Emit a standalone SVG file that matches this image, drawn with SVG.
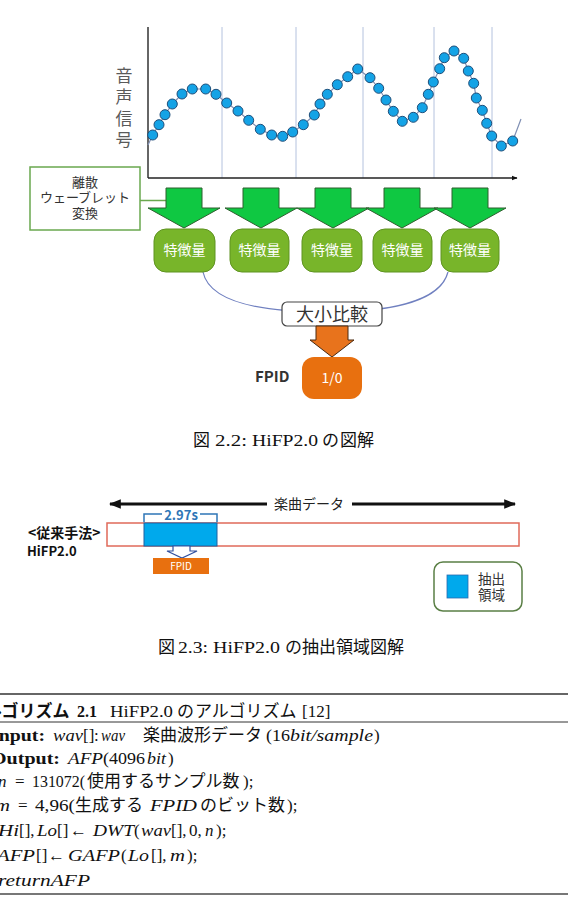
<svg xmlns="http://www.w3.org/2000/svg" width="568" height="915" viewBox="0 0 568 915">
<style>
.sans{font-family:"Noto Sans CJK JP","Noto Sans",sans-serif}
.serif{font-family:"Liberation Serif","Noto Sans CJK JP",serif;font-size:17px;fill:#111}
.it{font-style:italic}
.bf{font-weight:bold}
.grid{stroke:#b4c2de;stroke-width:1}
.dot{fill:#14a3e6;stroke:#1f4e79;stroke-width:1}
.garrow{fill:#0fc842;stroke:#2f5f2f;stroke-width:1}
.feat{fill:#78b52a;stroke:#5f9321;stroke-width:1}
.feattxt{font-family:"Noto Sans CJK JP",sans-serif;font-size:14px;fill:#fff;text-anchor:middle}
.orange{fill:#e8700f}
.rule{stroke:#333;fill:none}
</style>
<defs>
<marker id="ah" viewBox="0 0 10 10" refX="9" refY="5" markerWidth="6" markerHeight="6" orient="auto-start-reverse" markerUnits="userSpaceOnUse">
<path d="M0,1 L10,5 L0,9 z" fill="#111"/>
</marker>
<marker id="ahb" viewBox="0 0 10 10" refX="9" refY="5" markerWidth="12" markerHeight="12" orient="auto-start-reverse" markerUnits="userSpaceOnUse">
<path d="M0,1 L10,5 L0,9 z" fill="#111"/>
</marker>
</defs>

<!-- Figure 2.2 : chart -->
<g id="chart">
<line class="grid" x1="222" y1="27" x2="222" y2="178"/>
<line class="grid" x1="296" y1="27" x2="296" y2="178"/>
<line class="grid" x1="363" y1="27" x2="363" y2="178"/>
<line class="grid" x1="434" y1="27" x2="434" y2="178"/>
<line class="grid" x1="492" y1="27" x2="492" y2="178"/>
<line x1="148" y1="27" x2="148" y2="178" stroke="#333" stroke-width="1.5"/>
<line x1="148" y1="178" x2="517" y2="178" stroke="#222" stroke-width="1.5" marker-end="url(#ah)"/>
<text class="sans" font-size="17" fill="#5a5a5a" text-anchor="middle" x="124" y="82">音</text>
<text class="sans" font-size="17" fill="#5a5a5a" text-anchor="middle" x="124" y="103">声</text>
<text class="sans" font-size="17" fill="#5a5a5a" text-anchor="middle" x="124" y="125">信</text>
<text class="sans" font-size="17" fill="#5a5a5a" text-anchor="middle" x="124" y="146">号</text>
<polyline fill="none" stroke="#8090b4" stroke-width="1.2" points="148,145 152.7,135 159,124.7 165,114.7 172.3,104 182,94 192.3,89 205.7,89 216,94.3 226.7,103 238,111 248.7,120.3 260.3,129.3 271.7,135 282.7,136.3 292.7,132 303.3,124.7 314.3,115 320,104 327.3,94.3 337.3,84.7 347.7,76.7 357.7,69 370,77.7 378.7,88.3 386,100 393.3,111.3 402.3,121.3 413.3,117.3 422.3,107.7 428.3,94.3 433.3,82 439.7,68.7 444.3,57.7 454,51 463.7,58.3 468.3,71 473.7,83.3 476.3,98 482.3,110.3 486.7,123.3 491.7,136 501.3,146 512.7,141 521,119"/>
<g class="dot">
<circle cx="152.7" cy="135" r="5"/><circle cx="159" cy="124.7" r="5"/><circle cx="165" cy="114.7" r="5"/><circle cx="172.3" cy="104" r="5"/><circle cx="182" cy="94" r="5"/><circle cx="192.3" cy="89" r="5"/><circle cx="205.7" cy="89" r="5"/><circle cx="216" cy="94.3" r="5"/><circle cx="226.7" cy="103" r="5"/><circle cx="238" cy="111" r="5"/><circle cx="248.7" cy="120.3" r="5"/><circle cx="260.3" cy="129.3" r="5"/><circle cx="271.7" cy="135" r="5"/><circle cx="282.7" cy="136.3" r="5"/><circle cx="292.7" cy="132" r="5"/><circle cx="303.3" cy="124.7" r="5"/><circle cx="314.3" cy="115" r="5"/><circle cx="320" cy="104" r="5"/><circle cx="327.3" cy="94.3" r="5"/><circle cx="337.3" cy="84.7" r="5"/><circle cx="347.7" cy="76.7" r="5"/><circle cx="357.7" cy="69" r="5"/><circle cx="370" cy="77.7" r="5"/><circle cx="378.7" cy="88.3" r="5"/><circle cx="386" cy="100" r="5"/><circle cx="393.3" cy="111.3" r="5"/><circle cx="402.3" cy="121.3" r="5"/><circle cx="413.3" cy="117.3" r="5"/><circle cx="422.3" cy="107.7" r="5"/><circle cx="428.3" cy="94.3" r="5"/><circle cx="433.3" cy="82" r="5"/><circle cx="439.7" cy="68.7" r="5"/><circle cx="444.3" cy="57.7" r="5"/><circle cx="454" cy="51" r="5"/><circle cx="463.7" cy="58.3" r="5"/><circle cx="468.3" cy="71" r="5"/><circle cx="473.7" cy="83.3" r="5"/><circle cx="476.3" cy="98" r="5"/><circle cx="482.3" cy="110.3" r="5"/><circle cx="486.7" cy="123.3" r="5"/><circle cx="491.7" cy="136" r="5"/><circle cx="501.3" cy="146" r="5"/><circle cx="512.7" cy="141" r="5"/>
</g>
</g>

<g id="connectors">
<line x1="140" y1="200.5" x2="166" y2="200.5" stroke="#6aa84f" stroke-width="1.5"/>
<path d="M203,272 C210,305 270,312 326,312 C385,312 440,303 448,272" fill="none" stroke="#7080c0" stroke-width="1.2"/>
<line x1="267" y1="504" x2="110" y2="504" stroke="#111" stroke-width="3" marker-end="url(#ahb)"/>
<line x1="352" y1="504" x2="515" y2="504" stroke="#111" stroke-width="3" marker-end="url(#ahb)"/>
</g>

<g id="dwt-box">
<rect x="30" y="167" width="110" height="63" fill="#fff" stroke="#6aa84f" stroke-width="1.5"/>
<text class="sans" font-size="13" fill="#333" text-anchor="middle" x="85" y="187">離散</text>
<text class="sans" font-size="13" fill="#333" text-anchor="middle" x="85" y="202">ウェーブレット</text>
<text class="sans" font-size="13" fill="#333" text-anchor="middle" x="85" y="218">変換</text>
</g>

<g id="arrow1"><polygon class="garrow" points="166,188 202,188 202,208 220,208 184,228 148,208 166,208"/></g>
<g id="arrow2"><polygon class="garrow" points="243,188 279,188 279,208 297,208 261,228 225,208 243,208"/></g>
<g id="arrow3"><polygon class="garrow" points="315,188 351,188 351,208 369,208 333,228 297,208 315,208"/></g>
<g id="arrow4"><polygon class="garrow" points="384,188 420,188 420,208 438,208 402,228 366,208 384,208"/></g>
<g id="arrow5"><polygon class="garrow" points="452,188 488,188 488,208 506,208 470,228 434,208 452,208"/></g>

<g id="feat1"><rect class="feat" x="154" y="229" width="61" height="43" rx="12"/><text class="feattxt" x="184.5" y="255">特徴量</text></g>
<g id="feat2"><rect class="feat" x="230" y="229" width="59" height="43" rx="12"/><text class="feattxt" x="259.5" y="255">特徴量</text></g>
<g id="feat3"><rect class="feat" x="302" y="229" width="60" height="43" rx="12"/><text class="feattxt" x="332" y="255">特徴量</text></g>
<g id="feat4"><rect class="feat" x="373" y="229" width="59" height="43" rx="12"/><text class="feattxt" x="402.5" y="255">特徴量</text></g>
<g id="feat5"><rect class="feat" x="441" y="229" width="58" height="43" rx="12"/><text class="feattxt" x="470" y="255">特徴量</text></g>

<g id="compare">
<rect x="282" y="302" width="100" height="24" rx="5" fill="#fff" stroke="#444" stroke-width="1.2"/>
<text class="sans" x="332" y="320.5" font-size="18" fill="#333" text-anchor="middle">大小比較</text>
</g>

<g id="orange-arrow"><polygon points="316,326 348,326 348,340 354,340 332,357 310,340 316,340" fill="#e8731c" stroke="#4a2a10" stroke-width="1"/></g>

<g id="fpid">
<rect class="orange" x="302" y="357" width="60" height="42" rx="12"/>
<text class="sans" x="332" y="383" font-size="14" fill="#fff" text-anchor="middle">1/0</text>
<text class="sans" x="255" y="382" font-size="15" font-weight="bold" fill="#333">FPID</text>
</g>

<text class="serif" y="446"><tspan x="193">図</tspan><tspan x="215" textLength="32" lengthAdjust="spacingAndGlyphs">2.2:</tspan><tspan x="252" textLength="66" lengthAdjust="spacingAndGlyphs">HiFP2.0</tspan><tspan x="322">の</tspan><tspan x="340">図解</tspan></text>

<!-- Figure 2.3 -->
<g id="song-label">
<text class="sans" x="309" y="509" font-size="14" fill="#222" text-anchor="middle">楽曲データ</text>
</g>

<g id="song-bar">
<rect x="107" y="523" width="412" height="23" fill="#fff" stroke="#e06a5a" stroke-width="1.5"/>
</g>

<g id="extract">
<rect x="144" y="523" width="73" height="23" fill="#00a9ec" stroke="#2060a0" stroke-width="1"/>
<path d="M144,522 V514 H162 M200,514 H217 V522" fill="none" stroke="#2e75b6" stroke-width="1.5"/>
<text class="sans" x="181" y="520" font-size="13" font-weight="bold" fill="#2e75b6" text-anchor="middle">2.97s</text>
<polygon points="173,546 190,546 190,551 197,551 182,558 167,551 173,551" fill="#fff" stroke="#3050a0" stroke-width="1.2"/>
</g>

<g id="fpid2">
<rect class="orange" x="153" y="558" width="56" height="16"/>
<text class="sans" x="181" y="570" font-size="10" fill="#fff" text-anchor="middle">FPID</text>
</g>

<g id="method-label">
<text class="sans" x="28" y="538" font-size="14" font-weight="bold" fill="#111">&lt;従来手法&gt;</text>
<text class="sans" x="27" y="556" font-size="13" font-weight="bold" fill="#111">HiFP2.0</text>
</g>

<g id="legend">
<rect x="434" y="562" width="88" height="49" rx="9" fill="#fff" stroke="#5a7f45" stroke-width="1.5"/>
<rect x="447" y="575" width="21" height="23" fill="#00a9ec" stroke="#2a6ab0" stroke-width="0.8"/>
<text class="sans" font-size="13.5" fill="#333" x="478" y="584">抽出</text>
<text class="sans" font-size="13.5" fill="#333" x="478" y="600">領域</text>
</g>

<text class="serif" y="653"><tspan x="158">図</tspan><tspan x="178" textLength="30" lengthAdjust="spacingAndGlyphs">2.3:</tspan><tspan x="213" textLength="67" lengthAdjust="spacingAndGlyphs">HiFP2.0</tspan><tspan x="285">の</tspan><tspan x="302">抽出領域図解</tspan></text>

<!-- Algorithm 2.1 -->
<g id="algorithm">
<line class="rule" x1="0" y1="694" x2="568" y2="694" stroke-width="1.5"/>
<line class="rule" x1="0" y1="722" x2="568" y2="722" stroke-width="1"/>
<line x1="0" y1="894" x2="568" y2="894" stroke="#777" stroke-width="2"/>
<text class="serif" y="717"><tspan x="-32" class="bf">アルゴリズム</tspan><tspan x="77" class="bf" textLength="20" lengthAdjust="spacingAndGlyphs">2.1</tspan><tspan x="110" textLength="63" lengthAdjust="spacingAndGlyphs">HiFP2.0</tspan><tspan x="177">の</tspan><tspan x="195">アルゴリズム</tspan><tspan x="302">[12]</tspan></text>
<text class="serif" y="741"><tspan x="-9" class="bf" textLength="54" lengthAdjust="spacingAndGlyphs">Input:</tspan><tspan x="53" class="it" textLength="30" lengthAdjust="spacingAndGlyphs">wav</tspan><tspan x="83">[]</tspan><tspan x="94">:</tspan><tspan x="101" class="it" textLength="24" lengthAdjust="spacingAndGlyphs">wav</tspan><tspan x="143">楽曲波形データ</tspan><tspan x="266" textLength="24" lengthAdjust="spacingAndGlyphs">(16</tspan><tspan x="290" class="it" textLength="83" lengthAdjust="spacingAndGlyphs">bit/sample</tspan><tspan x="374">)</tspan></text>
<text class="serif" y="764"><tspan x="-9" class="bf" textLength="69" lengthAdjust="spacingAndGlyphs">Output:</tspan><tspan x="68" class="it" textLength="35" lengthAdjust="spacingAndGlyphs">AFP</tspan><tspan x="103" textLength="42" lengthAdjust="spacingAndGlyphs">(4096</tspan><tspan x="147" class="it" textLength="19" lengthAdjust="spacingAndGlyphs">bit</tspan><tspan x="168">)</tspan></text>
<text class="serif" y="787"><tspan x="-2" class="it">n</tspan><tspan x="15">=</tspan><tspan x="32" textLength="53" lengthAdjust="spacingAndGlyphs">131072(</tspan><tspan x="87">使用するサンプル数</tspan><tspan x="243">);</tspan></text>
<text class="serif" y="811"><tspan x="-5" class="it" textLength="15" lengthAdjust="spacingAndGlyphs">m</tspan><tspan x="18">=</tspan><tspan x="35" textLength="40" lengthAdjust="spacingAndGlyphs">4,96(</tspan><tspan x="75">生成する</tspan><tspan x="150" class="it" textLength="47" lengthAdjust="spacingAndGlyphs">FPID</tspan><tspan x="200">のビット数</tspan><tspan x="287">);</tspan></text>
<text class="serif" y="836"><tspan x="-2" class="it" textLength="21" lengthAdjust="spacingAndGlyphs">Hi</tspan><tspan x="19">[],</tspan><tspan x="37" class="it" textLength="20" lengthAdjust="spacingAndGlyphs">Lo</tspan><tspan x="57">[]</tspan><tspan x="70">←</tspan><tspan x="93" class="it" textLength="41" lengthAdjust="spacingAndGlyphs">DWT</tspan><tspan x="134">(</tspan><tspan x="141" class="it" textLength="30" lengthAdjust="spacingAndGlyphs">wav</tspan><tspan x="171">[],</tspan><tspan x="189">0,</tspan><tspan x="205" class="it">n</tspan><tspan x="216">);</tspan></text>
<text class="serif" y="861"><tspan x="-3" class="it" textLength="38" lengthAdjust="spacingAndGlyphs">AFP</tspan><tspan x="36">[]</tspan><tspan x="48">←</tspan><tspan x="68" class="it" textLength="52" lengthAdjust="spacingAndGlyphs">GAFP</tspan><tspan x="121">(</tspan><tspan x="128" class="it" textLength="21" lengthAdjust="spacingAndGlyphs">Lo</tspan><tspan x="151">[],</tspan><tspan x="170" class="it" textLength="15" lengthAdjust="spacingAndGlyphs">m</tspan><tspan x="187">);</tspan></text>
<text class="serif it" y="886"><tspan x="-2" textLength="92" lengthAdjust="spacingAndGlyphs">returnAFP</tspan></text>
</g>
</svg>
